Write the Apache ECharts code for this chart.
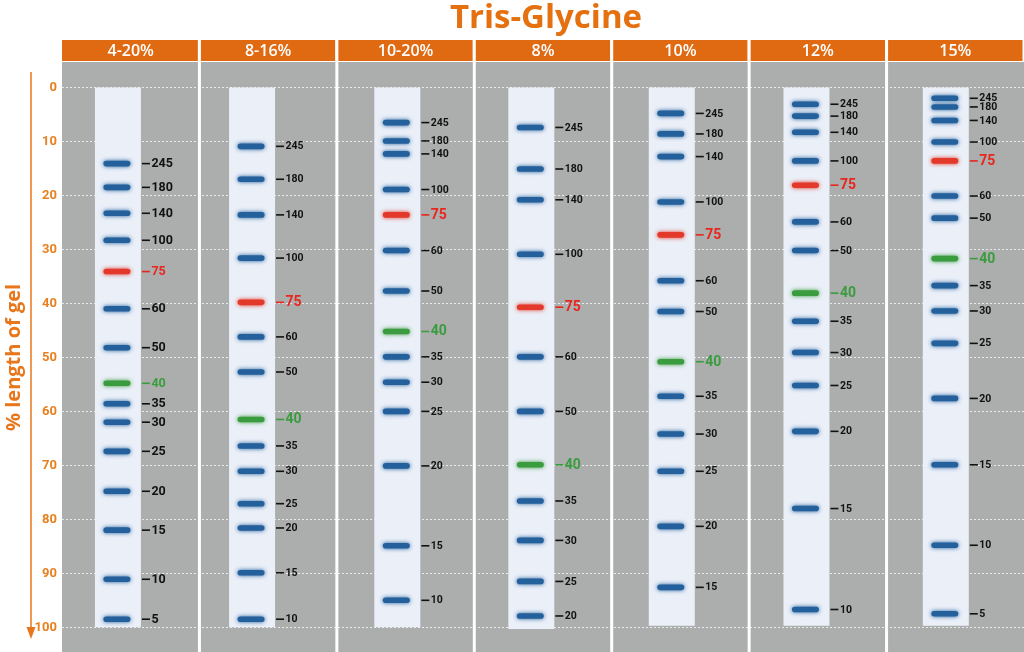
<!DOCTYPE html>
<html>
<head>
<meta charset="utf-8">
<script src="https://cdn.jsdelivr.net/npm/echarts@6/dist/echarts.min.js"></script>
<style>html,body{margin:0;padding:0;background:#fff}#c{width:1024px;height:652px}</style>
</head>
<body>
<div id="c"></div>
<script>
// ---- data ----
const lanes = ['4-20%', '8-16%', '10-20%', '8%', '10%', '12%', '15%'];
const stripEnd = [100, 100, 100, 100.3, 99.7, 99.7, 99.7];
const yTicks = [0, 10, 20, 30, 40, 50, 60, 70, 80, 90, 100];

const sizes4_20 = [245, 180, 140, 100, 75, 60, 50, 40, 35, 30, 25, 20, 15, 10, 5];
const pos4_20   = [14.1, 18.5, 23.3, 28.3, 34.1, 41.0, 48.2, 54.8, 58.6, 62.0, 67.4, 74.8, 82.0, 91.1, 98.5];
const sizes8_16 = [245, 180, 140, 100, 75, 60, 50, 40, 35, 30, 25, 20, 15, 10];
const pos8_16   = [10.9, 17.0, 23.6, 31.6, 39.8, 46.2, 52.7, 61.5, 66.4, 71.1, 77.1, 81.6, 89.9, 98.5];
const sizes10_20 = [245, 180, 140, 100, 75, 60, 50, 40, 35, 30, 25, 20, 15, 10];
const pos10_20   = [6.5, 9.9, 12.3, 18.9, 23.6, 30.2, 37.7, 45.2, 49.9, 54.6, 60.0, 70.1, 84.9, 95.0];
const sizes8 = [245, 180, 140, 100, 75, 60, 50, 40, 35, 30, 25, 20];
const pos8   = [7.4, 15.1, 20.8, 30.9, 40.7, 49.9, 60.0, 69.9, 76.6, 83.9, 91.5, 97.9];
const sizes10 = [245, 180, 140, 100, 75, 60, 50, 40, 35, 30, 25, 20, 15];
const pos10   = [4.8, 8.6, 12.8, 21.2, 27.3, 35.8, 41.5, 50.8, 57.2, 64.2, 71.1, 81.3, 92.6];
const sizes12 = [245, 180, 140, 100, 75, 60, 50, 40, 35, 30, 25, 20, 15, 10];
const pos12   = [3.1, 5.3, 8.3, 13.6, 18.1, 24.9, 30.2, 38.1, 43.3, 49.1, 55.2, 63.7, 78.0, 96.7];
const sizes15 = [245, 180, 140, 100, 75, 60, 50, 40, 35, 30, 25, 20, 15, 10, 5];
const pos15   = [2.0, 3.6, 6.1, 10.1, 13.6, 20.1, 24.2, 31.7, 36.7, 41.4, 47.4, 57.6, 69.9, 84.8, 97.5];

const laneSizes = [sizes4_20, sizes8_16, sizes10_20, sizes8, sizes10, sizes12, sizes15];
const lanePos = [pos4_20, pos8_16, pos10_20, pos8, pos10, pos12, pos15];

// ---- layout / style (not data) ----
const ORANGE = '#e06a12';
const BLUE = '#23609c', RED = '#e3392a', GREEN = '#3a9c3e';
const STRIP_OFFSETS = [0.407, 0.383, 0.440, 0.415, 0.437, 0.417, 0.431];
const STRIP_W = 46;

const laneData = lanes.map((n, i) => [i, stripEnd[i], n]);
const bandData = [];
lanePos.forEach((arr, i) => arr.forEach((p, j) => bandData.push([i, p, laneSizes[i][j]])));

const chart = echarts.init(document.getElementById('c'));
chart.setOption({
  animation: false,
  title: {
    text: 'Tris-Glycine', left: 541, top: -3, textAlign: 'center',
    textStyle: { color: '#e4700f', fontSize: 33, fontWeight: 'bold', fontFamily: 'Open Sans' }
  },
  graphic: [
    { type: 'rect', z: -1, shape: { x: 62, y: 62, width: 962, height: 590 }, style: { fill: '#acadad' } },
    { type: 'line', shape: { x1: 31, y1: 72, x2: 31, y2: 630 }, style: { stroke: '#e8761a', lineWidth: 1.5 } },
    { type: 'polygon', shape: { points: [[26.5, 627], [35.5, 627], [31, 639]] }, style: { fill: '#e8761a' } }
  ],
  grid: { left: 62, right: 0, top: 87.5, bottom: 24.7, containLabel: false, outerBoundsMode: 'none' },
  xAxis: { type: 'value', min: 0, max: lanes.length, show: false },
  yAxis: {
    type: 'value', inverse: true, min: yTicks[0], max: yTicks[yTicks.length - 1], interval: 10,
    name: '% length of gel', nameLocation: 'middle', nameGap: 38, nameMoveOverlap: false,
    nameTextStyle: { color: '#e8761a', fontSize: 20, fontWeight: 'bold', fontFamily: 'Open Sans' },
    axisLine: { show: false }, axisTick: { show: false },
    axisLabel: { color: '#e8801f', fontSize: 13, fontWeight: 'bold', fontFamily: 'Roboto', margin: 5 },
    splitLine: { lineStyle: { color: 'rgba(255,255,255,0.75)', type: [2, 2], width: 1 } }
  },
  series: [
    {
      type: 'custom', data: laneData, clip: false, z: 2,
      renderItem: function (params, api) {
        const i = api.value(0);
        const x0 = api.coord([i, 0])[0], x1 = api.coord([i + 1, 0])[0];
        const yT = api.coord([i, 0])[1], yB = api.coord([i, api.value(1)])[1];
        const cx = api.coord([i + STRIP_OFFSETS[i], 0])[0];
        const children = [
          { type: 'rect', shape: { x: x0 + (i === 0 ? 0 : 1.5), y: 40, width: x1 - x0 - (i === 0 ? 1.5 : 3), height: 21 }, style: { fill: ORANGE } },
          { type: 'text', style: { text: lanes[i], x: (x0 + x1) / 2, y: 51, align: 'center', verticalAlign: 'middle', fill: '#fff', fontSize: 16, fontWeight: 600, fontFamily: 'Open Sans' } },
          { type: 'rect', shape: { x: cx - STRIP_W / 2, y: yT, width: STRIP_W, height: yB - yT }, style: { fill: '#eaeff8' } }
        ];
        if (i < lanes.length - 1) {
          children.push({ type: 'line', shape: { x1: x1, y1: 40, x2: x1, y2: 652 }, style: { stroke: '#fff', lineWidth: 3 } });
        }
        return { type: 'group', children: children };
      }
    },
    {
      type: 'custom', data: bandData, clip: false, z: 3,
      renderItem: function (params, api) {
        const i = api.value(0), size = api.value(2);
        const cx = api.coord([i + STRIP_OFFSETS[i], 0])[0];
        const y = api.coord([i, api.value(1)])[1];
        const col = size === 75 ? RED : (size === 40 ? GREEN : BLUE);
        const hl = size === 75 || size === 40;
        const txtCol = size === 75 ? '#e8261d' : (size === 40 ? '#3a9c3e' : '#111');
        const fs = i === 0 ? 12.5 : (hl ? 14 : 10.5);
        const sr = cx + STRIP_W / 2;
        return {
          type: 'group', children: [
            { type: 'rect', shape: { x: cx - 14.5, y: y - 2.8, width: 27, height: 5.6, r: 2.8 },
              style: { fill: col, shadowBlur: 4, shadowColor: col } },
            { type: 'line', shape: { x1: sr + 1, y1: y, x2: sr + 9, y2: y }, style: { stroke: hl ? txtCol : '#111', lineWidth: 1.6 } },
            { type: 'text', style: { text: String(size), x: sr + 10.5, y: y + 0.5, align: 'left', verticalAlign: 'middle', fill: txtCol, fontSize: fs, fontWeight: 'bold', fontFamily: 'Roboto' } }
          ]
        };
      }
    }
  ]
});
</script>
</body>
</html>
